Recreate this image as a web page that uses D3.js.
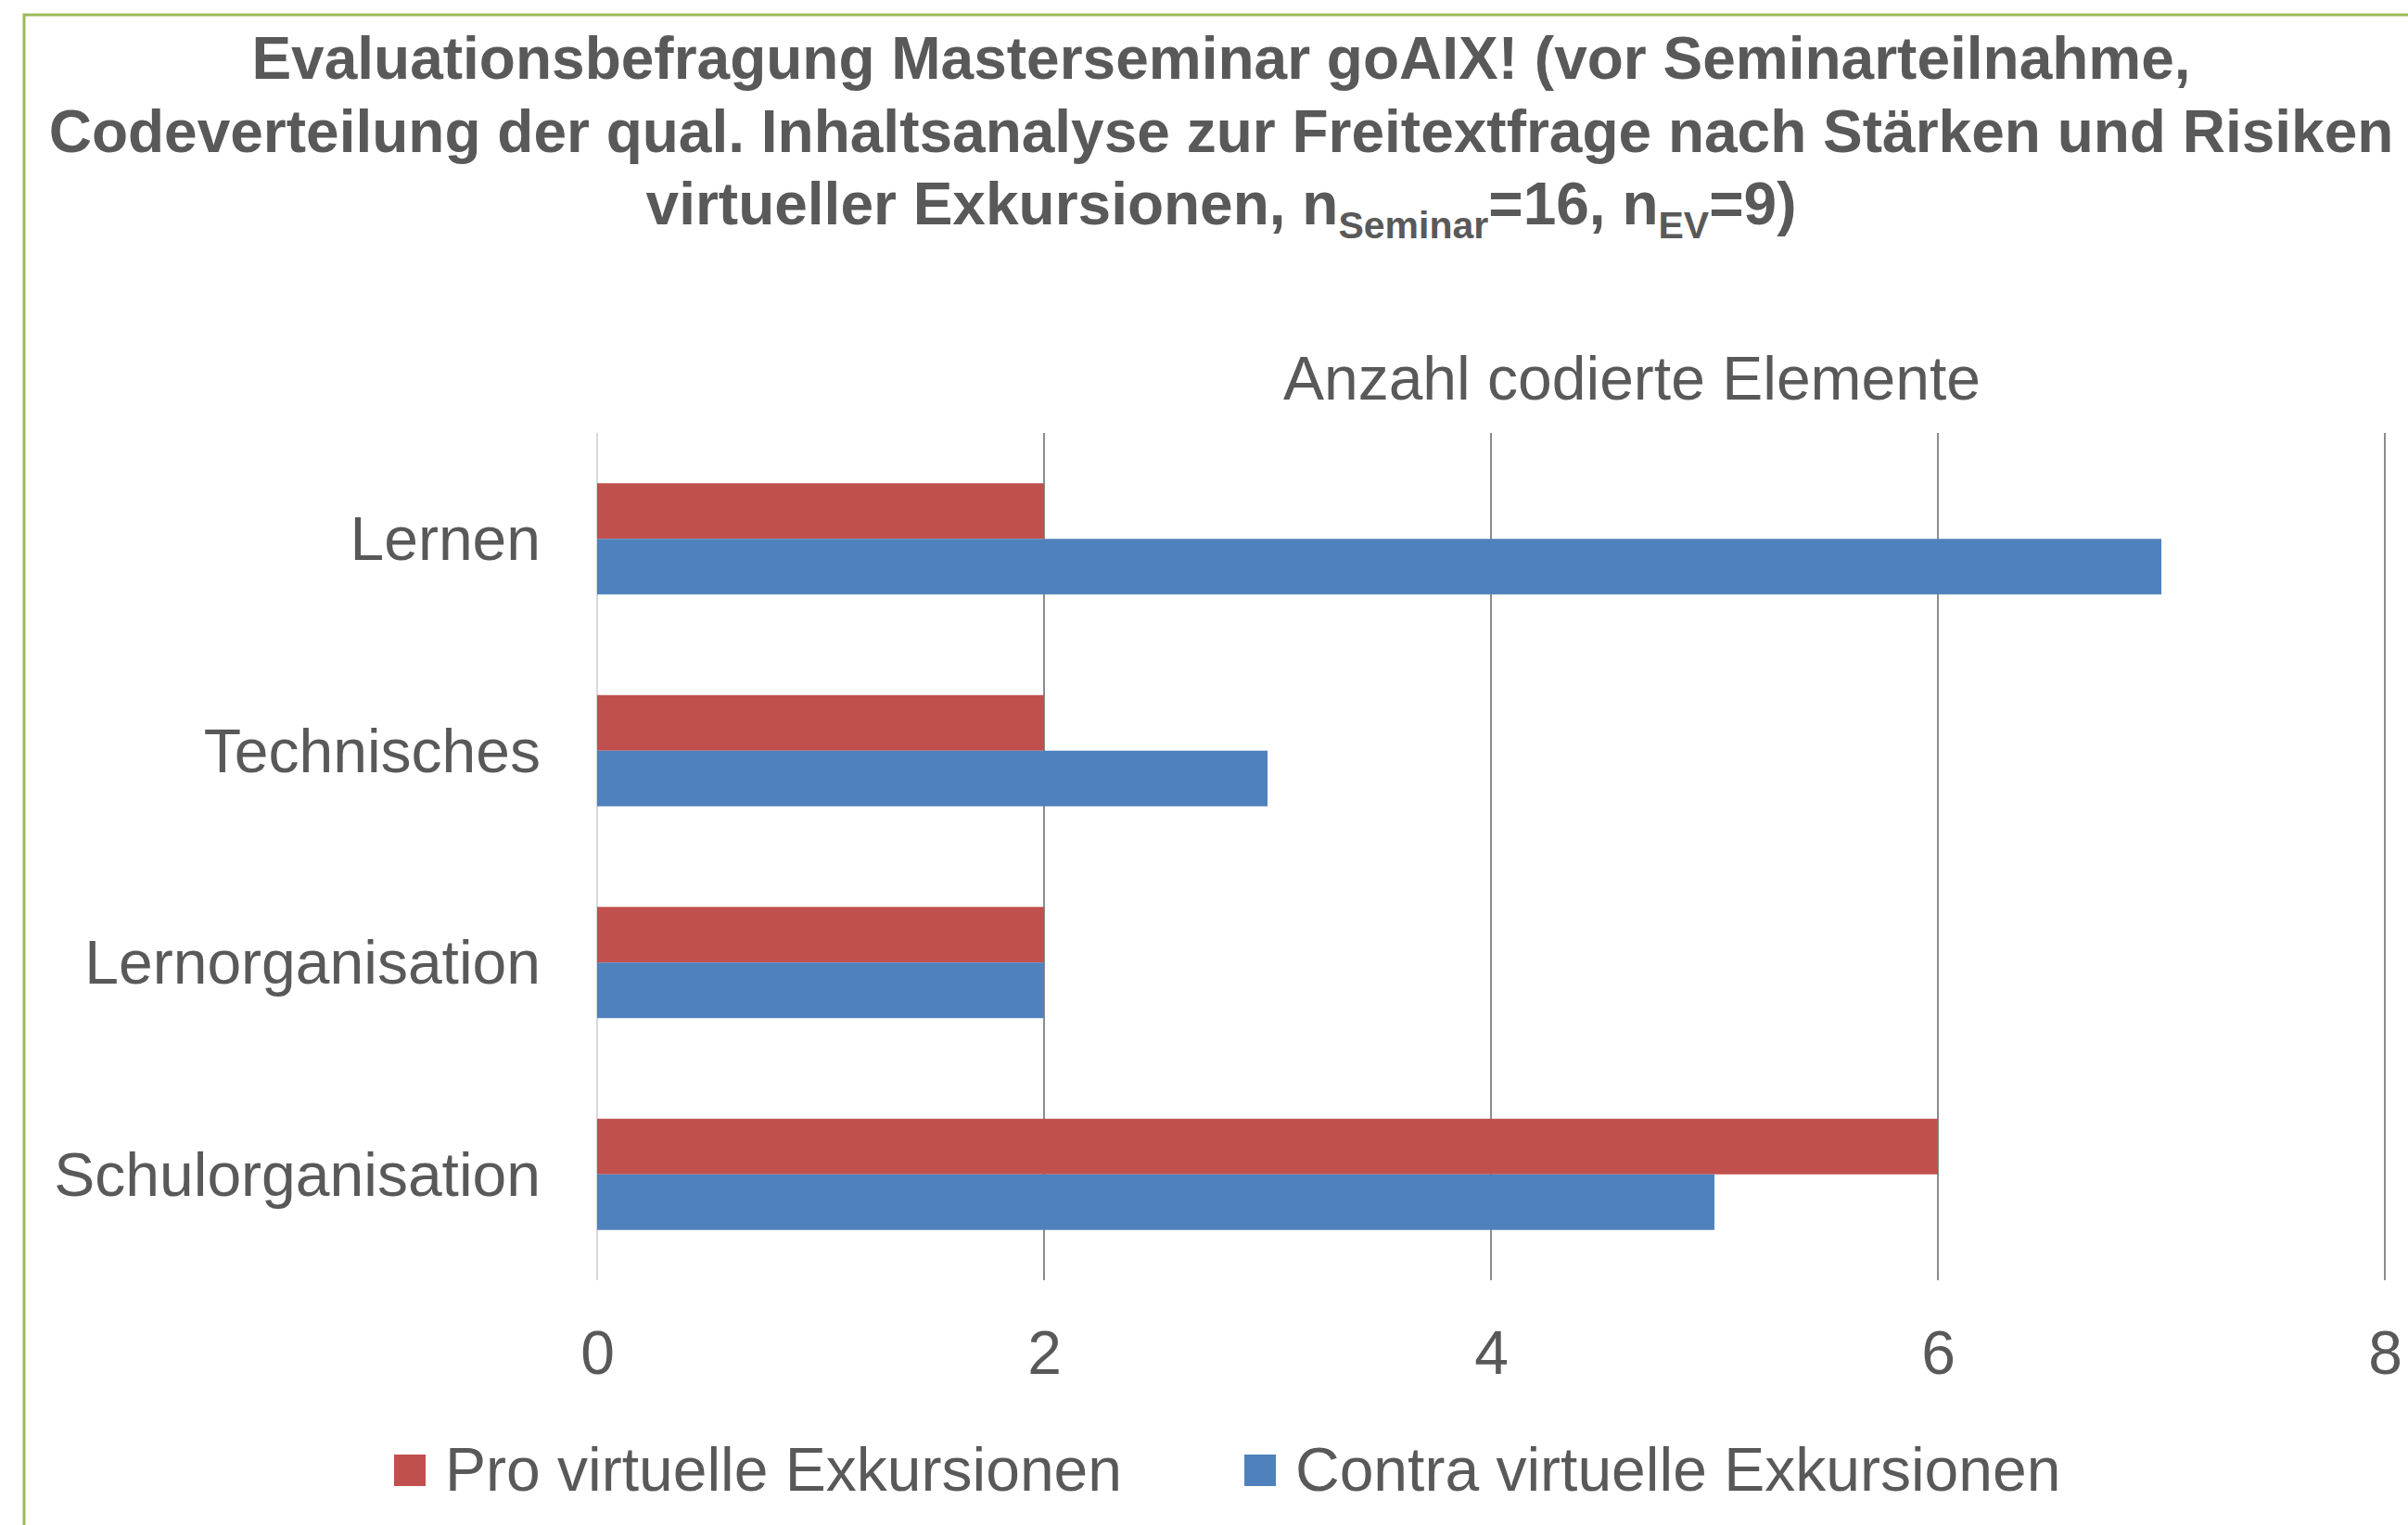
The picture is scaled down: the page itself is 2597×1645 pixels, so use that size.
<!DOCTYPE html>
<html>
<head>
<meta charset="utf-8">
<script src="https://cdn.jsdelivr.net/npm/d3@7"></script>
<style>
  html, body { margin: 0; padding: 0; background: #ffffff; }
  svg { display: block; }
  text { font-family: "Liberation Sans", Arial, sans-serif; fill: #595959; }
</style>
</head>
<body>
<svg id="chart" width="2597" height="1645"></svg>
<script>
// ---- data ----
const categories = ["Lernen", "Technisches", "Lernorganisation", "Schulorganisation"];
const seriesNames = ["Pro virtuelle Exkursionen", "Contra virtuelle Exkursionen"];
const proValues = [2, 2, 2, 6];
const contraValues = [7, 3, 2, 5];
const xTicks = [0, 2, 4, 6, 8];
const axisTitle = "Anzahl codierte Elemente";

// ---- layout ----
const W = 2597, H = 1645;
const colors = ["#C0504D", "#4F81BD"];
const textColor = "#595959";
const plot = { left: 644, right: 2572, top: 467, bottom: 1381 };

const svg = d3.select("#chart");
svg.append("rect").attr("width", W).attr("height", H).attr("fill", "#fff");

// chart area border (green, cropped at right/bottom)
svg.append("path")
  .attr("d", `M26,${H + 5} L26,16 L${W + 5},16`)
  .attr("fill", "none").attr("stroke", "#9BBB59").attr("stroke-width", 3);

// ---- title ----
const title = svg.append("text")
  .attr("text-anchor", "middle")
  .attr("font-weight", "bold")
  .attr("font-size", 64);
title.append("tspan").attr("x", 1317).attr("y", 85)
  .text("Evaluationsbefragung Masterseminar goAIX! (vor Seminarteilnahme,");
title.append("tspan").attr("x", 1317).attr("y", 164)
  .text("Codeverteilung der qual. Inhaltsanalyse zur Freitextfrage nach Stärken und Risiken");
const l3 = title.append("tspan").attr("x", 1317).attr("y", 242);
l3.append("tspan").text("virtueller Exkursionen, n");
l3.append("tspan").attr("font-size", 41).attr("dy", 15).text("Seminar");
l3.append("tspan").attr("dy", -15).text("=16, n");
l3.append("tspan").attr("font-size", 41).attr("dy", 15).text("EV");
l3.append("tspan").attr("dy", -15).text("=9)");

// ---- scales ----
const x = d3.scaleLinear().domain([0, 8]).range([plot.left, plot.right]);
const y = d3.scaleBand().domain(categories).range([plot.top, plot.bottom]).padding(0);
const barH = y.bandwidth() * 0.2625;

// gridlines
svg.append("g").selectAll("line").data(xTicks).join("line")
  .attr("x1", d => x(d)).attr("x2", d => x(d))
  .attr("y1", plot.top).attr("y2", plot.bottom)
  .attr("stroke", d => d === 0 ? "#D9D9D9" : "#8C8C8C")
  .attr("stroke-width", 2);

// axis title
svg.append("text")
  .attr("x", 1760).attr("y", 431)
  .attr("text-anchor", "middle")
  .attr("font-size", 66)
  .text(axisTitle);

// bars
const rows = categories.map((c, i) => ({ c, vals: [proValues[i], contraValues[i]] }));
const gBars = svg.append("g");
rows.forEach(r => {
  r.vals.forEach((v, s) => {
    const cy = y(r.c) + y.bandwidth() / 2;
    gBars.append("rect")
      .attr("x", x(0))
      .attr("y", s === 0 ? cy - barH : cy)
      .attr("width", x(v) - x(0))
      .attr("height", barH)
      .attr("fill", colors[s]);
  });
});

// x axis ticks labels
const xAxis = d3.axisBottom(x).tickValues(xTicks).tickSize(0).tickPadding(0).tickFormat(d3.format("d"));
const gx = svg.append("g").attr("transform", `translate(0,${plot.bottom})`).call(xAxis);
gx.select(".domain").remove();
gx.selectAll("text")
  .attr("y", 101).attr("dy", 0)
  .attr("font-size", 66)
  .attr("font-family", "Liberation Sans, Arial, sans-serif")
  .attr("fill", textColor);

// y axis category labels
const yAxis = d3.axisLeft(y).tickSize(0).tickPadding(61);
const gy = svg.append("g").attr("transform", `translate(${plot.left},0)`).call(yAxis);
gy.select(".domain").remove();
gy.selectAll("text")
  .attr("font-size", 66)
  .attr("dy", "0.35em")
  .attr("font-family", "Liberation Sans, Arial, sans-serif")
  .attr("fill", textColor);

// legend
const legendX = [425, 1342];
const lg = svg.append("g");
seriesNames.forEach((n, i) => {
  lg.append("rect").attr("x", legendX[i]).attr("y", 1569).attr("width", 34).attr("height", 34).attr("fill", colors[i]);
  lg.append("text").attr("x", legendX[i] + 55).attr("y", 1608).attr("font-size", 66).text(n);
});
</script>
</body>
</html>
